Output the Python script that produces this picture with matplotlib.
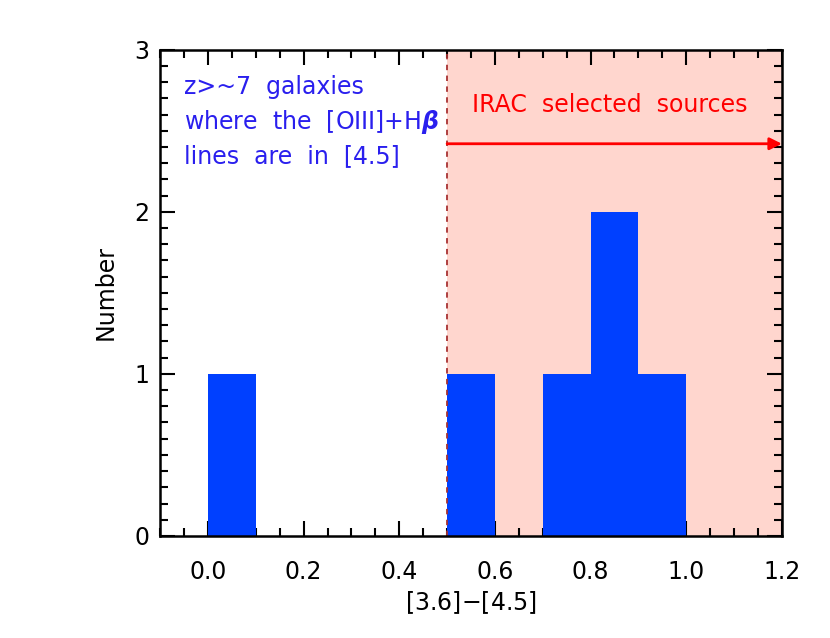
import numpy as np
import matplotlib
matplotlib.use("Agg")
import matplotlib.pyplot as plt
from matplotlib.ticker import MultipleLocator

# histogram of [3.6]-[4.5] colours
bin_left = [0.0, 0.5, 0.7, 0.8, 0.9]
counts = [1, 1, 1, 2, 1]
bin_width = 0.1

irac_cut = 0.5
arrow_y = 2.42

fig = plt.figure(figsize=(8.3, 6.38), dpi=100)
ax = fig.add_axes([0.193, 0.16, 0.749, 0.762])

ax.axvspan(irac_cut, 1.2, color='#FFD6CE', zorder=0, lw=0)
ax.bar(bin_left, counts, width=bin_width, align='edge', color='#0040FF', lw=0, zorder=3)
ax.axvline(irac_cut, color='#A83232', ls=(0, (3, 3)), lw=1.3, zorder=3.5)
ax.annotate('', xy=(1.2, arrow_y), xytext=(irac_cut, arrow_y),
            arrowprops=dict(arrowstyle='-|>', color='red', lw=2, mutation_scale=18,
                            shrinkA=0, shrinkB=0), zorder=4)

ax.text(0.84, 2.66, 'IRAC  selected  sources', color='red',
        fontsize=17, ha='center', va='center')
ax.text(-0.05, 2.27,
        'z>~7  galaxies\nwhere  the  [OIII]+H$\\boldsymbol{\\beta}$\nlines  are  in  [4.5]',
        color='#2A1FEE', fontsize=17, ha='left', va='bottom', linespacing=1.42)

ax.set_xlim(-0.1, 1.2)
ax.set_ylim(0, 3)
ax.xaxis.set_major_locator(MultipleLocator(0.2))
ax.xaxis.set_minor_locator(MultipleLocator(0.05))
ax.yaxis.set_major_locator(MultipleLocator(1))
ax.yaxis.set_minor_locator(MultipleLocator(0.1))
ax.set_xticks([0.0, 0.2, 0.4, 0.6, 0.8, 1.0, 1.2])
ax.set_xticklabels(['0.0', '0.2', '0.4', '0.6', '0.8', '1.0', '1.2'])
ax.tick_params(which='both', direction='in', top=True, right=True, width=1.5,
               labelsize=17)
ax.tick_params(which='major', length=11, pad=17)
ax.tick_params(which='minor', length=6)
ax.tick_params(axis='y', which='major', pad=8)
ax.xaxis.set_zorder(1)
ax.yaxis.set_zorder(1)
for s in ax.spines.values():
    s.set_linewidth(1.8)
    s.set_zorder(5)

ax.set_xlabel('[3.6]$-$[4.5]', fontsize=17, labelpad=4)
ax.set_ylabel('Number', fontsize=17, labelpad=12)

fig.savefig('out.png', dpi=100)
